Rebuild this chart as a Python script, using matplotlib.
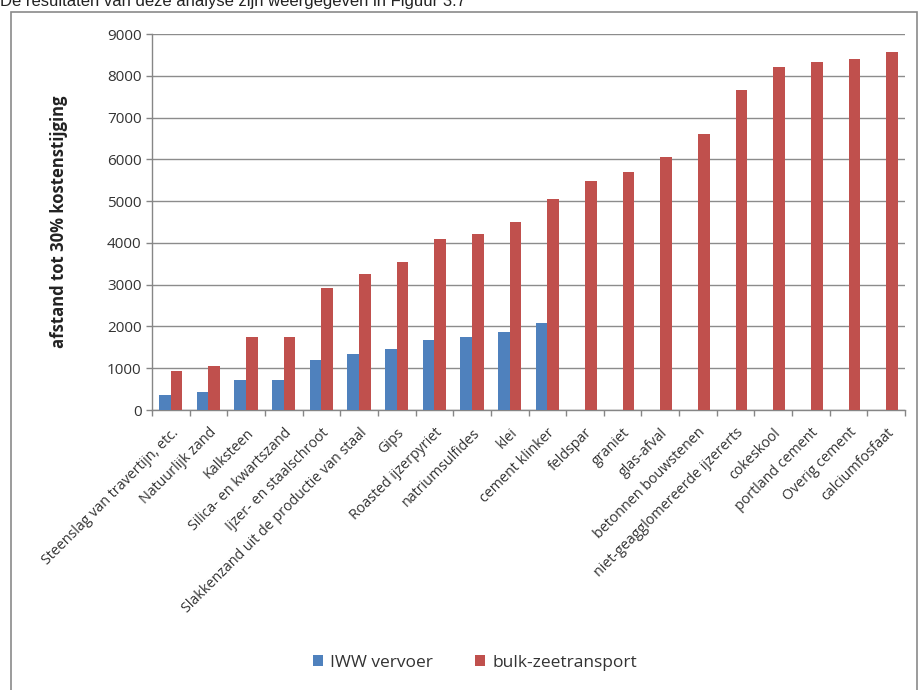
import matplotlib.pyplot as plt
import matplotlib.patches as patches
import numpy as np

categories = ["Steenslag van travertijn, etc.", "Natuurlijk zand", "Kalksteen",
              "Silica- en kwartszand", "Ijzer- en staalschroot",
              "Slakkenzand uit de productie van staal", "Gips", "Roasted ijzerpyriet",
              "natriumsulfides", "klei", "cement klinker", "feldspar", "graniet",
              "glas-afval", "betonnen bouwstenen", "niet-geagglomereerde ijzererts",
              "cokeskool", "portland cement", "Overig cement", "calciumfosfaat"]
iww = [370, 420, 730, 730, 1200, 1330, 1455, 1680, 1750, 1870, 2085]
bulk = [925, 1050, 1755, 1755, 2910, 3250, 3550, 4100, 4215, 4510, 5060,
        5480, 5690, 6045, 6595, 7660, 8210, 8335, 8410, 8570]

blue = "#4F81BD"
red = "#C0504D"

fig = plt.figure(figsize=(9.23, 6.9), dpi=100)
plt.rcParams['font.family'] = ['Open Sans', 'DejaVu Sans']

# caption line cut off at the top of the picture (as in the source)
fig.text(0.0, 1 - 6 / 690, "De resultaten van deze analyse zijn weergegeven in Figuur 3.7",
         fontsize=12, family='Liberation Sans', va='baseline', ha='left', color='#222222')

# frame around the chart
fig.patches.append(patches.Rectangle((11 / 923, -0.02), (917 - 11) / 923, 1.02 - 12 / 690,
                                     transform=fig.transFigure, fill=False,
                                     edgecolor='#8a8a8a', linewidth=1.2))

ax = fig.add_axes([152 / 923, 1 - 410 / 690, (905 - 152) / 923, (410 - 34) / 690])

n = len(categories)
x = np.arange(n)
w = 0.31
ax.bar(x[:len(iww)] - w / 2, iww, width=w, color=blue, label="IWW vervoer", zorder=3)
ax.bar(x + w / 2, bulk, width=w, color=red, label="bulk-zeetransport", zorder=3)

ax.set_xlim(-0.5, n - 0.5)
ax.set_ylim(0, 9000)
ax.set_yticks(np.arange(0, 9001, 1000))
ax.tick_params(axis='y', labelsize=11, colors='#868686', labelcolor='#333333',
               length=4, width=1)
ax.yaxis.grid(True, color='#8c8c8c', linewidth=1, zorder=0)

ax.set_xticks(x)
ax.set_xticklabels(categories, rotation=45, ha='right', rotation_mode='anchor',
                   fontsize=10.3, color='#333333')
ax.tick_params(axis='x', length=0, pad=11)
ax.set_xticks(np.arange(-0.5, n, 1), minor=True)
ax.tick_params(axis='x', which='minor', length=4, color='#868686', width=1)

for s in ['top', 'right']:
    ax.spines[s].set_visible(False)
for s in ['left', 'bottom']:
    ax.spines[s].set_color('#868686')
    ax.spines[s].set_linewidth(1)

ax.set_ylabel("afstand tot 30% kostenstijging", fontsize=12, fontweight='bold',
              color='#222222', labelpad=28)

fig.legend(loc='center', bbox_to_anchor=(475 / 923, 1 - 663 / 690), ncol=2, frameon=False,
           fontsize=12.5, handlelength=0.6, handleheight=0.6, columnspacing=2.4,
           handletextpad=0.4, labelcolor='#333333')

fig.savefig("out.png", dpi=100)
